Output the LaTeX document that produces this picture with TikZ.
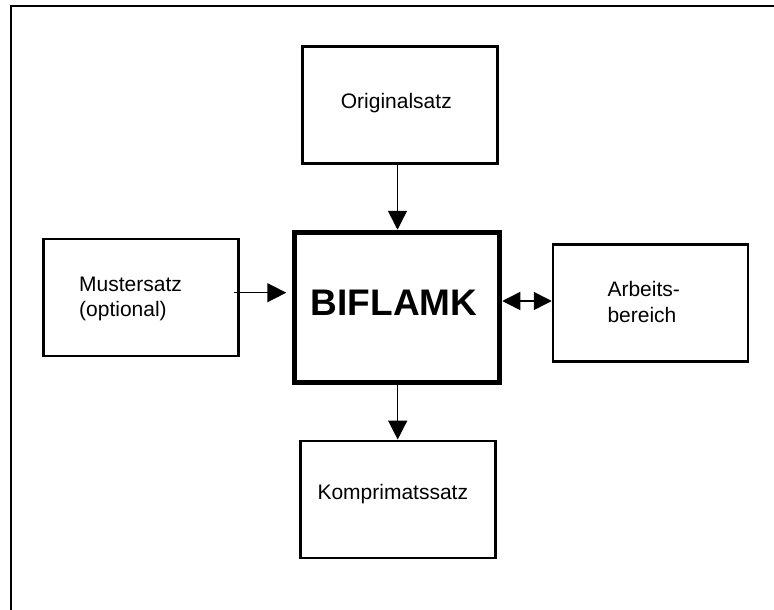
\documentclass[tikz,border=0pt]{standalone}
\usepackage{fontspec}
\setmainfont{Liberation Sans}
\usetikzlibrary{arrows.meta}
\begin{document}
\begin{tikzpicture}[x=1pt,y=-1pt,
  box/.style={draw, line width=2.5pt, rectangle, inner sep=0pt, minimum width=195pt, minimum height=117pt},
  bigbox/.style={draw, line width=5.5pt, rectangle, inner sep=0pt, minimum width=205pt, minimum height=150pt},
  txt/.style={inner sep=0pt, font=\fontsize{21}{25.3}\selectfont},
  bigtxt/.style={inner sep=0pt, font=\fontsize{37}{40}\selectfont\bfseries},
  arr/.style={line width=1.5pt, -{Triangle[length=19pt,width=19pt]}},
  darr/.style={line width=1.5pt, {Triangle[length=18pt,width=18pt]}-{Triangle[length=18pt,width=18pt]}}]
\useasboundingbox (0,0) rectangle (774,610);
% outer frame
\coordinate (fbl) at (10.5,615);
\coordinate (ftl) at (10.5,6.2);
\coordinate (ftr) at (780,6.2);
\draw[line width=2pt] (fbl) -- (ftl) -- (ftr);
% boxes
\node[box] (orig) at (400,105) {};
\node[box] (must) at (140.8,297.5) {};
\node[box] (arb) at (650.5,303) {};
\node[box] (komp) at (398,499.3) {};
\node[bigbox] (bif) at (397,307.5) {};
% texts
\node[txt, anchor=base west] (torig) at (340.7,109) {Originalsatz};
\node[txt, anchor=base west, align=left] (tmust) at (79,316.3) {Mustersatz\\(optional)};
\node[txt, anchor=base west, align=left] (tarb) at (607.3,322) {Arbeits-\\bereich};
\node[txt, anchor=base west] (tkomp) at (317.3,499.3) {Komprimatssatz};
\node[bigtxt, anchor=base west] (tbif) at (310.6,315) {BIFLAMK};
% connectors
\draw[arr] ([xshift=0.5pt]bif.north |- orig.south) -- ([xshift=0.5pt]bif.north);
\draw[arr] ([xshift=0.7pt]bif.south) -- ([xshift=0.7pt]bif.south |- komp.north);
\draw[arr] ([xshift=-5.5pt,yshift=4.8pt]must.east) -- ([xshift=-5.5pt,yshift=4.8pt]must.east -| bif.west);
\draw[darr] ([yshift=2pt]arb.west -| bif.east) -- ([yshift=2pt]arb.west);
\end{tikzpicture}
\end{document}
